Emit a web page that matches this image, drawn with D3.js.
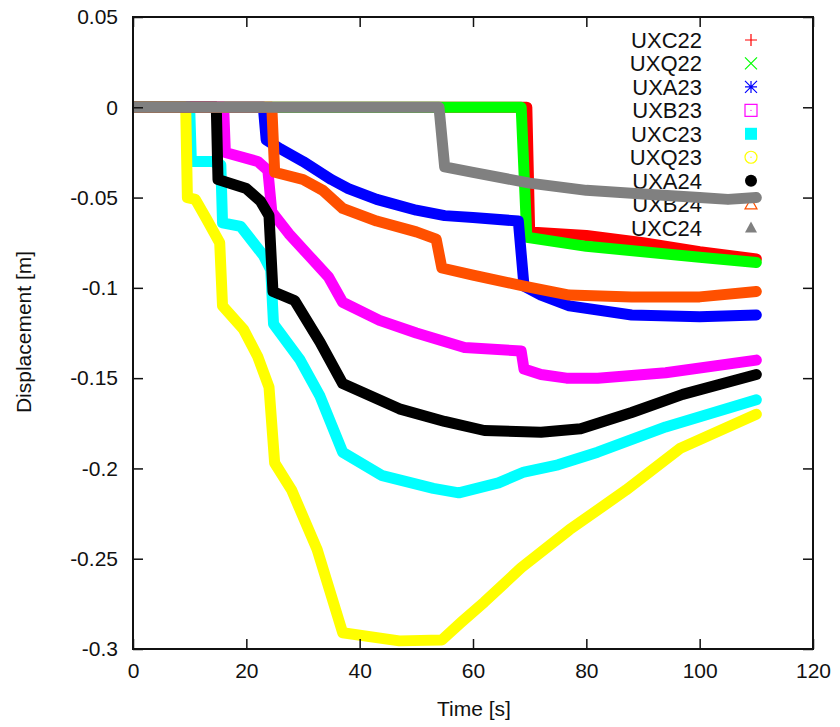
<!DOCTYPE html>
<html><head><meta charset="utf-8">
<script src="https://cdn.jsdelivr.net/npm/d3@7"></script>
<style>body{margin:0;background:#fff}svg{display:block}text{font-family:"Liberation Sans",Arial,sans-serif;fill:#111}</style>
</head><body><svg id="c" width="840" height="727"></svg>
<script>
const seriesNames = ["UXC22","UXQ22","UXA23","UXB23","UXC23","UXQ23","UXA24","UXB24","UXC24"];
const seriesColors = ["#ff0000","#00ff00","#0000ff","#ff00ff","#00ffff","#ffff00","#000000","#ff5000","#808080"];
const xTicks = [0,20,40,60,80,100,120];
const yTicks = [0.05,0,-0.05,-0.1,-0.15,-0.2,-0.25,-0.3];
const yTickLabels = ["0.05","0","-0.05","-0.1","-0.15","-0.2","-0.25","-0.3"];

const UXC22 = [[0,0],[69.5,0],[70,-0.069],[80,-0.071],[90,-0.075],[100,-0.080],[110,-0.084]];
const UXQ22 = [[0,0],[68.5,0],[69.5,-0.072],[80,-0.077],[90,-0.080],[100,-0.083],[110,-0.086]];
const UXA23 = [[0,0],[23,0],[23.5,-0.018],[26,-0.023],[30,-0.030],[35,-0.040],[38,-0.045],[43,-0.051],[50,-0.057],[55,-0.060],[60,-0.061],[68,-0.063],[69,-0.099],[72,-0.104],[77,-0.110],[88,-0.115],[100,-0.116],[110,-0.115]];
const UXB23 = [[0,0],[16,0],[16.3,-0.025],[22,-0.030],[23.8,-0.035],[24.5,-0.058],[27.5,-0.070],[31,-0.082],[34.5,-0.094],[37,-0.108],[43.5,-0.118],[50,-0.125],[58.5,-0.133],[68.5,-0.135],[69,-0.145],[72,-0.148],[76.5,-0.150],[82,-0.150],[94,-0.147],[110,-0.140]];
const UXC23 = [[0,0],[10,0],[10.3,-0.030],[14,-0.030],[15.5,-0.032],[15.8,-0.064],[19,-0.066],[23,-0.082],[24.3,-0.090],[24.8,-0.120],[29.5,-0.140],[33,-0.160],[37,-0.191],[44,-0.204],[53,-0.211],[57.5,-0.2135],[64.5,-0.208],[69,-0.202],[75,-0.198],[82,-0.191],[94,-0.177],[110,-0.162]];
const UXQ23 = [[0,0],[9.3,0],[9.6,-0.050],[11,-0.051],[13,-0.062],[15.3,-0.075],[15.8,-0.110],[19.5,-0.123],[22,-0.138],[24,-0.155],[25,-0.197],[28,-0.212],[32.5,-0.245],[37,-0.291],[47,-0.2955],[54.5,-0.295],[58,-0.285],[62,-0.274],[68.5,-0.255],[77,-0.234],[87,-0.212],[96.5,-0.189],[110,-0.170]];
const UXA24 = [[0,0],[14.7,0],[15,-0.040],[20,-0.045],[22.5,-0.052],[24,-0.060],[24.7,-0.102],[28.5,-0.107],[33,-0.130],[37,-0.153],[47,-0.167],[55,-0.174],[62,-0.179],[72,-0.180],[79,-0.178],[88,-0.169],[97,-0.159],[110,-0.148]];
const UXB24 = [[0,0],[24.5,0],[25,-0.036],[30,-0.040],[33.5,-0.046],[37,-0.056],[43,-0.063],[50,-0.069],[53.5,-0.073],[54.5,-0.089],[60,-0.093],[69,-0.099],[77,-0.104],[88,-0.105],[100,-0.105],[110,-0.102]];
const UXC24 = [[0,0],[54,0],[55,-0.033],[60,-0.036],[70,-0.042],[80,-0.046],[90,-0.048],[100,-0.050],[105,-0.051],[110,-0.050]];
const seriesData = [UXC22,UXQ22,UXA23,UXB23,UXC23,UXQ23,UXA24,UXB24,UXC24];
const markerTypes = ["plus","cross","star","squareOpen","squareFilled","circleOpen","circleFilled","triangleOpen","triangleFilled"];

const L=133,R=813,T=17,B=649;
const svg=d3.select("#c");
const x=d3.scaleLinear().domain([0,120]).range([L,R]);
const y=d3.scaleLinear().domain([-0.3,0.05]).range([B,T]);

// legend (drawn under lines)
const lg=svg.append("g");
seriesNames.forEach((n,i)=>{
  const yy=40+i*23.45;
  lg.append("text").attr("x",702).attr("y",yy).attr("dy","0.36em").attr("text-anchor","end").attr("font-size",22).text(n);
  const c=seriesColors[i], mx=751, s=6;
  const g=lg.append("g").attr("transform",`translate(${mx},${yy})`);
  switch(markerTypes[i]){
    case "plus": g.append("path").attr("d",`M${-s},0H${s}M0,${-s}V${s}`).attr("stroke",c).attr("stroke-width",1.2); break;
    case "cross": g.append("path").attr("d",`M${-s},${-s}L${s},${s}M${-s},${s}L${s},${-s}`).attr("stroke",c).attr("stroke-width",1.2); break;
    case "star": g.append("path").attr("d",`M${-s},0H${s}M0,${-s}V${s}M${-s},${-s}L${s},${s}M${-s},${s}L${s},${-s}`).attr("stroke",c).attr("stroke-width",1.2); break;
    case "squareOpen": g.append("rect").attr("x",-s).attr("y",-s).attr("width",2*s).attr("height",2*s).attr("fill","none").attr("stroke",c).attr("stroke-width",1.2);
      g.append("circle").attr("r",0.7).attr("fill",c); break;
    case "squareFilled": g.append("rect").attr("x",-s).attr("y",-s).attr("width",2*s).attr("height",2*s).attr("fill",c); break;
    case "circleOpen": g.append("circle").attr("r",s).attr("fill","none").attr("stroke",c).attr("stroke-width",1.2);
      g.append("circle").attr("r",0.7).attr("fill",c); break;
    case "circleFilled": g.append("circle").attr("r",s).attr("fill",c); break;
    case "triangleOpen": g.append("path").attr("d",`M0,${-s}L${s},${s*0.8}L${-s},${s*0.8}Z`).attr("fill","none").attr("stroke",c).attr("stroke-width",1.2); break;
    case "triangleFilled": g.append("path").attr("d",`M0,${-s}L${s},${s*0.8}L${-s},${s*0.8}Z`).attr("fill",c); break;
  }
});

svg.append("clipPath").attr("id","clip").append("rect").attr("x",L).attr("y",T).attr("width",R-L).attr("height",B-T);
const line=d3.line().x(d=>x(d[0])).y(d=>y(d[1]));
const lines=svg.append("g").attr("clip-path","url(#clip)");
seriesData.forEach((s,i)=>{
  lines.append("path").attr("d",line(s)).attr("fill","none").attr("stroke",seriesColors[i])
   .attr("stroke-width",11).attr("stroke-linejoin","round").attr("stroke-linecap","round");
});

// axes frame with inward ticks (mirrored)
const ax=svg.append("g");
ax.append("g").attr("transform",`translate(0,${B})`).call(d3.axisBottom(x).tickValues(xTicks).tickSize(-10).tickPadding(14).tickFormat(d3.format("d")));
ax.append("g").attr("transform",`translate(0,${T})`).call(d3.axisTop(x).tickValues(xTicks).tickSize(-10).tickFormat(""));
ax.append("g").attr("transform",`translate(${L},0)`).call(d3.axisLeft(y).tickValues(yTicks).tickSize(-10).tickPadding(15).tickFormat((d,i)=>yTickLabels[i]));
ax.append("g").attr("transform",`translate(${R},0)`).call(d3.axisRight(y).tickValues(yTicks).tickSize(-10).tickFormat(""));
ax.selectAll(".domain").remove();
ax.selectAll(".tick line").attr("stroke","#111").attr("stroke-width",1.5);
ax.selectAll(".tick text").attr("font-size",21).attr("fill","#111").attr("font-family","'Liberation Sans',Arial,sans-serif");
ax.append("rect").attr("x",L).attr("y",T).attr("width",R-L).attr("height",B-T).attr("fill","none").attr("stroke","#111").attr("stroke-width",2);

svg.append("text").attr("x",474).attr("y",716).attr("text-anchor","middle").attr("font-size",21).text("Time [s]");
svg.append("text").attr("transform","translate(31,332) rotate(-90)").attr("text-anchor","middle").attr("font-size",21).text("Displacement [m]");
</script></body></html>
